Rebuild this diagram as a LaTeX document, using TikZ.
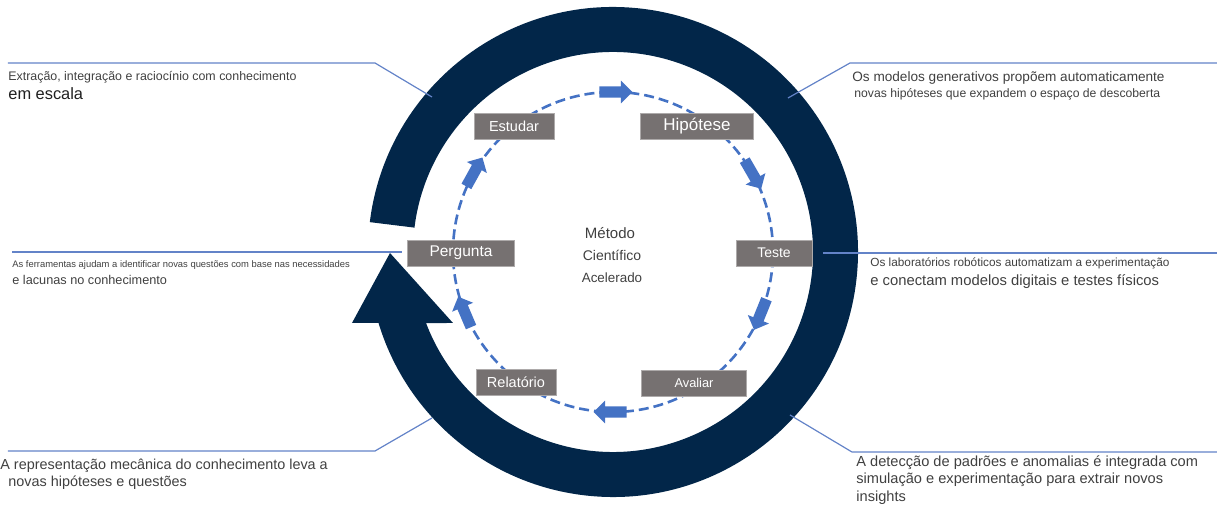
\documentclass[tikz,border=0pt]{standalone}
\usepackage{fontspec}
\setmainfont{Liberation Sans}
\usetikzlibrary{shapes.arrows}
\definecolor{ringNavy}{HTML}{022649}
\definecolor{cycleBlue}{HTML}{4472C4}
\definecolor{calloutBlue}{HTML}{6383C8}
\definecolor{stepGray}{HTML}{767171}
\definecolor{textGray}{HTML}{404040}
\definecolor{textDark}{HTML}{1F1F1F}

\begin{document}
\begin{tikzpicture}[x=0.5pt, y=0.5pt,
    stepbox/.style={rectangle, draw=stepGray!60, fill=stepGray, text=white,
                    minimum height=13pt, inner sep=0pt},
    flow/.style={single arrow, fill=cycleBlue, inner sep=2.6pt,
                 single arrow head extend=2.9pt, minimum height=16.5pt},
    callout/.style={calloutBlue, line width=0.6pt},
    note/.style={anchor=base west, inner sep=0pt, text=textGray},
  ]
    \useasboundingbox (-613,-256) rectangle (604,252);

    % outer cycle with its head
    \fill[ringNavy] (173:245) arc[start angle=173, end angle=-163.2, radius=245]
      -- (-261,-71) -- (-223,-1) -- (-160,-71) -- (-159.2:200)
      arc[start angle=-159.2, end angle=173, radius=200] -- cycle;

    % inner cycle
    \draw[cycleBlue, line width=1.3pt, dash pattern=on 5pt off 2.5pt]
      (0,0) circle[radius=160];
    \foreach \a [count=\i] in {90, 30, -22, -90, 203, 151}
      \node[flow, rotate=\a-90] (flow\i) at (\a:160) {};

    \node[stepbox, minimum width=40pt, font=\fontsize{7.25}{8}\selectfont]
      (estudar) at (-99,126) {Estudar};
    \node[stepbox, minimum width=56.5pt, font=\fontsize{8.5}{9}\selectfont]
      (hipotese) at (84,126) {Hipótese};
    \node[stepbox, minimum width=38pt, font=\fontsize{7}{8}\selectfont]
      (teste) at (161,-1) {Teste};
    \node[stepbox, minimum width=52.5pt, font=\fontsize{6.4}{7}\selectfont]
      (avaliar) at (81,-131) {Avaliar};
    \node[stepbox, minimum width=40pt, font=\fontsize{7.25}{8}\selectfont]
      (relatorio) at (-97,-130) {Relatório};
    \node[stepbox, minimum width=53.5pt, font=\fontsize{7.75}{8}\selectfont]
      (pergunta) at (-152,-1) {Pergunta};

    \node[anchor=base, text=textGray, font=\fontsize{7.5}{8}\selectfont]
      (metodo) at (-3,13) {Método};
    \node[anchor=base, text=textGray, font=\fontsize{7}{8}\selectfont]
      (cientifico) at (-1,-9) {Científico};
    \node[anchor=base, text=textGray, font=\fontsize{6.7}{8}\selectfont]
      (acelerado) at (-1,-31) {Acelerado};

    % callouts
    \coordinate (tlRing) at (-181,155);
    \coordinate (tlBend) at (-238,189);
    \coordinate (tlEnd) at (-605,189);
    \coordinate (mlRing) at (-211,0);
    \coordinate (mlEnd) at (-601,0);
    \coordinate (blRing) at (-181,-166);
    \coordinate (blBend) at (-238,-199);
    \coordinate (blEnd) at (-605,-199);
    \coordinate (trRing) at (175,154);
    \coordinate (trBend) at (237,189);
    \coordinate (trEnd) at (604,189);
    \coordinate (mrRing) at (210,-1);
    \coordinate (mrEnd) at (604,-1);
    \coordinate (brRing) at (177,-163);
    \coordinate (brBend) at (239,-200);
    \coordinate (brEnd) at (604,-200);

    \draw[callout] (tlRing) -- (tlBend) -- (tlEnd);
    \draw[callout] (mlRing) -- (mlEnd);
    \draw[callout] (blRing) -- (blBend) -- (blEnd);
    \draw[callout] (trRing) -- (trBend) -- (trEnd);
    \draw[callout] (mrRing) -- (mrEnd);
    \draw[callout] (brRing) -- (brBend) -- (brEnd);

    \node[note, font=\fontsize{6.2}{7}\selectfont] (tl1) at (-605,171)
      {Extração, integração e raciocínio com conhecimento};
    \node[note, text=textDark, font=\fontsize{8.2}{9}\selectfont] (tl2) at (-605,152)
      {em escala};
    \node[note, font=\fontsize{4.7}{5}\selectfont] (ml1) at (-601,-16)
      {As ferramentas ajudam a identificar novas questões com base nas necessidades};
    \node[note, font=\fontsize{6.35}{7}\selectfont] (ml2) at (-601,-33)
      {e lacunas no conhecimento};
    \node[note, font=\fontsize{7.2}{8}\selectfont] (bl1) at (-613,-218)
      {A representação mecânica do conhecimento leva a};
    \node[note, font=\fontsize{7.2}{8}\selectfont] (bl2) at (-605,-235)
      {novas hipóteses e questões};
    \node[note, font=\fontsize{6.8}{8}\selectfont] (tr1) at (239,170)
      {Os modelos generativos propõem automaticamente};
    \node[note, font=\fontsize{6.1}{7}\selectfont] (tr2) at (241,154)
      {novas hipóteses que expandem o espaço de descoberta};
    \node[note, font=\fontsize{5.9}{7}\selectfont] (mr1) at (257,-15)
      {Os laboratórios robóticos automatizam a experimentação};
    \node[note, font=\fontsize{7.4}{8}\selectfont] (mr2) at (257,-34)
      {e conectam modelos digitais e testes físicos};
    \node[note, font=\fontsize{7.3}{8}\selectfont] (br1) at (243,-215)
      {A detecção de padrões e anomalias é integrada com};
    \node[note, font=\fontsize{7.3}{8}\selectfont] (br2) at (243,-232)
      {simulação e experimentação para extrair novos};
    \node[note, font=\fontsize{7.3}{8}\selectfont] (br3) at (243,-250)
      {insights};
  \end{tikzpicture}
\end{document}
